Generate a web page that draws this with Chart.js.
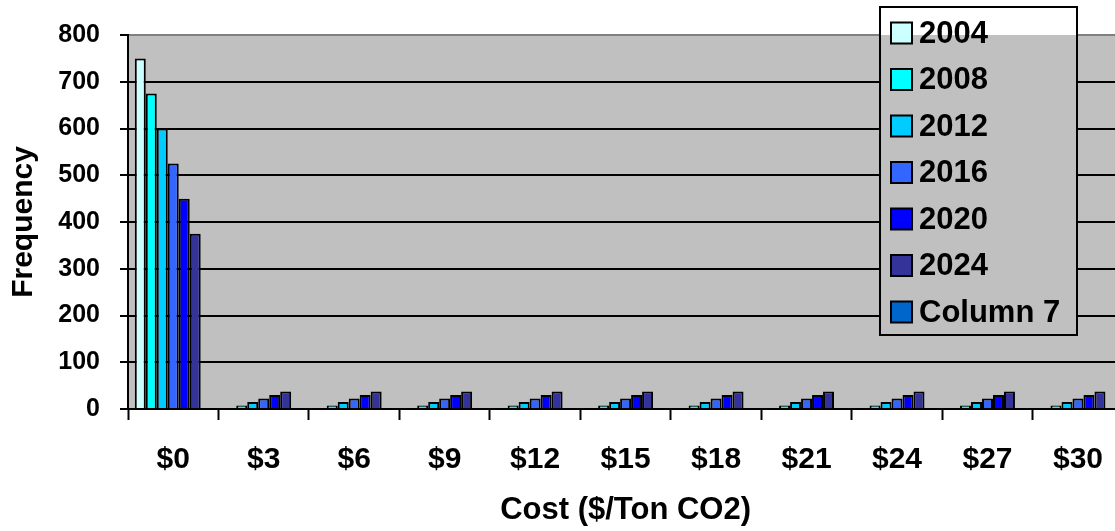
<!DOCTYPE html>
<html>
<head>
<meta charset="utf-8">
<style>
  html, body { margin: 0; padding: 0; background: #ffffff; overflow: hidden; }
  #wrap { width: 1115px; height: 531px; overflow: hidden; }
</style>
<script src="https://cdn.jsdelivr.net/npm/chart.js@4.4.1/dist/chart.umd.min.js"></script>
</head>
<body>
<div id="wrap"><canvas id="c" width="1125" height="531"></canvas></div>
<script>
// Cost bins (x categories)
const categories = ['$0', '$3', '$6', '$9', '$12', '$15', '$18', '$21', '$24', '$27', '$30'];

// Frequency per cost bin, one array per year
const s2004 = [750, 0, 0, 0, 0, 0, 0, 0, 0, 0, 0];
const s2008 = [675, 7.5, 7.5, 7.5, 7.5, 7.5, 7.5, 7.5, 7.5, 7.5, 7.5];
const s2012 = [600, 15, 15, 15, 15, 15, 15, 15, 15, 15, 15];
const s2016 = [525, 22.5, 22.5, 22.5, 22.5, 22.5, 22.5, 22.5, 22.5, 22.5, 22.5];
const s2020 = [450, 30, 30, 30, 30, 30, 30, 30, 30, 30, 30];
const s2024 = [375, 37.5, 37.5, 37.5, 37.5, 37.5, 37.5, 37.5, 37.5, 37.5, 37.5];
const col7  = [0, 0, 0, 0, 0, 0, 0, 0, 0, 0, 0];

const seriesNames = ['2004', '2008', '2012', '2016', '2020', '2024', 'Column 7'];
const seriesColors = ['#CCFFFF', '#00FFFF', '#00CCFF', '#3366FF', '#0000FF', '#333399', '#0066CC'];
const seriesData = [s2004, s2008, s2012, s2016, s2020, s2024, col7];

const yTicks = [0, 100, 200, 300, 400, 500, 600, 700, 800];

const FONT = '"Liberation Sans", Arial, Helvetica, sans-serif';

// Grey plot background
const plotBackground = {
  id: 'plotBackground',
  beforeDraw(chart) {
    const { ctx, chartArea: a } = chart;
    ctx.save();
    ctx.fillStyle = '#C0C0C0';
    ctx.fillRect(a.left, a.top, a.right - a.left, a.bottom - a.top);
    ctx.restore();
  }
};

// Boxed legend sitting over the upper right of the plot
const boxLegend = {
  id: 'boxLegend',
  afterDraw(chart) {
    const { ctx, chartArea: a } = chart;
    const x0 = 880, y0 = 7, w = 197, h = 328;
    ctx.save();
    // background: white above the plot, grey inside it
    ctx.fillStyle = '#ffffff';
    ctx.fillRect(x0, y0, w, a.top - y0);
    ctx.fillStyle = '#C0C0C0';
    ctx.fillRect(x0, a.top, w, y0 + h - a.top);
    ctx.strokeStyle = '#000000';
    ctx.lineWidth = 2;
    ctx.strokeRect(x0, y0, w, h);

    const rowH = 46.5;
    ctx.font = 'bold 31px ' + FONT;
    ctx.textBaseline = 'middle';
    ctx.textAlign = 'left';
    chart.data.datasets.forEach((ds, i) => {
      const cy = 33 + i * rowH;
      ctx.fillStyle = ds.backgroundColor;
      ctx.fillRect(891, cy - 10.5, 21, 21);
      ctx.lineWidth = 2;
      ctx.strokeStyle = '#000000';
      ctx.strokeRect(891, cy - 10.5, 21, 21);
      ctx.fillStyle = '#000000';
      ctx.fillText(ds.label, 919, cy + 1);
    });
    ctx.restore();
  }
};

new Chart(document.getElementById('c'), {
  type: 'bar',
  data: {
    labels: categories,
    datasets: seriesData.map((d, i) => ({
      label: seriesNames[i],
      data: d,
      backgroundColor: seriesColors[i],
      borderColor: '#000000',
      borderWidth: 2,
      borderSkipped: 'start',
      categoryPercentage: 0.85,
      barPercentage: 1.0
    }))
  },
  options: {
    responsive: false,
    animation: false,
    devicePixelRatio: 1,
    layout: { padding: { top: 33, right: 0, left: 0, bottom: 0 } },
    plugins: {
      legend: { display: false },
      tooltip: { enabled: false }
    },
    scales: {
      x: {
        offset: true,
        grid: {
          offset: true,
          drawOnChartArea: false,
          drawTicks: true,
          tickLength: 11,
          tickWidth: 2,
          tickColor: '#000000'
        },
        border: { display: true, color: '#000000', width: 2 },
        ticks: {
          color: '#000000',
          padding: 22,
          font: { family: FONT, size: 30, weight: 'bold' },
          maxRotation: 0,
          autoSkip: false
        },
        title: {
          display: true,
          text: 'Cost ($/Ton CO2)',
          color: '#000000',
          font: { family: FONT, size: 31, weight: 'bold' },
          padding: { top: 0, bottom: 2 }
        },
        afterFit(scale) { scale.height = 122; }
      },
      y: {
        min: 0,
        max: 800,
        afterBuildTicks(scale) { scale.ticks = yTicks.map(v => ({ value: v })); },
        grid: {
          drawOnChartArea: true,
          drawTicks: true,
          tickLength: 8,
          lineWidth: 2,
          color: (c) => (c.tick && c.tick.value === 800 ? '#808080' : '#000000'),
          tickColor: '#000000',
          tickWidth: 2
        },
        border: { display: true, color: '#000000', width: 2 },
        ticks: {
          color: '#000000',
          padding: 20,
          font: { family: FONT, size: 25, weight: 'bold' }
        },
        title: {
          display: true,
          text: 'Frequency',
          color: '#000000',
          font: { family: FONT, size: 30, weight: 'bold' },
          padding: { top: 6, bottom: 0 }
        },
        afterFit(scale) { scale.width = 128; }
      }
    }
  },
  plugins: [plotBackground, boxLegend]
});
</script>
</body>
</html>
